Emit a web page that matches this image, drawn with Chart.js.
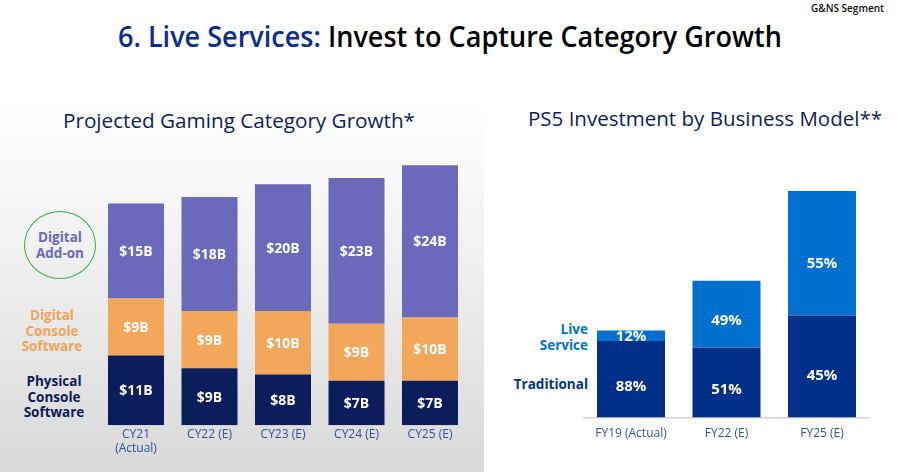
<!DOCTYPE html>
<html>
<head>
<meta charset="utf-8">
<script src="https://cdn.jsdelivr.net/npm/chart.js@4.4.1/dist/chart.umd.min.js"></script>
<style>
  html, body { margin: 0; padding: 0; }
  body { width: 900px; height: 472px; position: relative; overflow: hidden; background: #ffffff; font-family: "Open Sans", sans-serif; }
  #leftPanel { position: absolute; left: 0; top: 0; width: 484px; height: 472px;
    background: linear-gradient(to bottom, #ffffff 0px, #ffffff 100px, #f5f5f5 210px, #d9d9d9 472px); }
  .abs { position: absolute; white-space: nowrap; }
  #segTag { right: 16px; top: 1px; font-size: 10px; font-weight: 600; color: #111; }
  #mainTitle { left: 118px; top: 16px; font-size: 28px; font-weight: 600; color: #000; transform-origin: 0 50%; line-height: 40px; }
  #mainTitle .blue { color: #0B2D8C; }
  .sub { font-size: 20px; font-weight: 500; color: #111C5C; transform-origin: 0 50%; line-height: 28px; }
  #subL { left: 63px; top: 107px; }
  #subR { left: 528px; top: 105px; }
  .leg { font-size: 13.5px; font-weight: 700; text-align: center; line-height: 15.5px; }
  #legAddon { left: 20px; top: 230px; width: 80px; color: #6B69BC; }
  #legDigital { left: 10px; top: 308px; width: 84px; color: #F2A559; }
  #legPhysical { left: 10px; top: 374px; width: 88px; color: #0D1B5A; }
  #circle { position: absolute; left: 24px; top: 211px; width: 70px; height: 66px; border: 1.6px solid #2DB34A; border-radius: 50%; }
  .legR { font-size: 13.5px; font-weight: 700; text-align: right; line-height: 16px; }
  #legLive { right: 312px; top: 321px; color: #0070CF; }
  #legTrad { right: 312px; top: 376px; color: #00338D; }
  canvas { position: absolute; }
  #cLeft { left: 0; top: 130px; }
  #cRight { left: 484px; top: 130px; }
</style>
</head>
<body>
<div id="leftPanel"></div>
<div id="segTag" class="abs">G&amp;NS Segment</div>
<div id="mainTitle" class="abs"><span class="blue">6. Live Services:</span> Invest to Capture Category Growth</div>
<div id="subL" class="abs sub">Projected Gaming Category Growth*</div>
<div id="subR" class="abs sub">PS5 Investment by Business Model**</div>
<div id="circle"></div>
<div id="legAddon" class="abs leg">Digital<br>Add-on</div>
<div id="legDigital" class="abs leg">Digital<br>Console<br>Software</div>
<div id="legPhysical" class="abs leg">Physical<br>Console<br>Software</div>
<div id="legLive" class="abs legR">Live<br>Service</div>
<div id="legTrad" class="abs legR">Traditional</div>
<canvas id="cLeft" width="484" height="342"></canvas>
<canvas id="cRight" width="416" height="342"></canvas>
<script>
// ---- Left chart data (USD billions) ----
const cyLabels = [['CY21', '(Actual)'], 'CY22 (E)', 'CY23 (E)', 'CY24 (E)', 'CY25 (E)'];
const physicalConsole = [11, 9, 8, 7, 7];
const digitalConsole = [9, 9, 10, 9, 10];
const digitalAddon = [15, 18, 20, 23, 24];

// ---- Right chart data ----
const fyLabels = ['FY19 (Actual)', 'FY22 (E)', 'FY25 (E)'];
const investmentIndex = [100, 157, 260];   // relative total investment (FY19 = 100)
const traditionalPct = [88, 51, 45];
const liveServicePct = [12, 49, 55];

const traditionalVals = investmentIndex.map((t, i) => t * traditionalPct[i] / 100);
const liveVals = investmentIndex.map((t, i) => t * liveServicePct[i] / 100);

const segLabels = {
  id: 'segLabels',
  afterDatasetsDraw(chart, args, opts) {
    const ctx = chart.ctx;
    const frac = opts.frac ?? 0.5;
    ctx.save();
    ctx.fillStyle = '#ffffff';
    ctx.textAlign = 'center';
    ctx.textBaseline = 'middle';
    chart.data.datasets.forEach((ds, i) => {
      const meta = chart.getDatasetMeta(i);
      ctx.font = ds.labelFont;
      meta.data.forEach((el, j) => {
        const h = el.base - el.y;
        const f = h < 20 ? 0.5 : frac;
        ctx.fillText(ds.labelText[j], el.x, el.y + h * f + 1);
      });
    });
    ctx.restore();
  }
};

const tickFont = { family: 'Open Sans', size: 12, weight: '400' };
const tickColor = '#3350A4';

new Chart(document.getElementById('cLeft'), {
  type: 'bar',
  data: {
    labels: cyLabels,
    datasets: [
      { label: 'Physical Console Software', data: physicalConsole, backgroundColor: '#0C1D5C',
        labelText: physicalConsole.map(v => '$' + v + 'B'), labelFont: '700 14px "Open Sans"' },
      { label: 'Digital Console Software', data: digitalConsole, backgroundColor: '#F2A75B',
        labelText: digitalConsole.map(v => '$' + v + 'B'), labelFont: '700 14px "Open Sans"' },
      { label: 'Digital Add-on', data: digitalAddon, backgroundColor: '#6B69BC',
        labelText: digitalAddon.map(v => '$' + v + 'B'), labelFont: '700 14px "Open Sans"' }
    ]
  },
  options: {
    responsive: false, animation: false, devicePixelRatio: 1,
    layout: { padding: { left: 99.25, right: 17.25, top: 10, bottom: 14 } },
    datasets: { bar: { barPercentage: 0.762, categoryPercentage: 1.0 } },
    plugins: { legend: { display: false }, tooltip: { enabled: false }, segLabels: { frac: 0.5 } },
    scales: {
      x: { stacked: true, grid: { display: false, drawTicks: false }, border: { display: false },
           ticks: { color: tickColor, font: tickFont, padding: 2, maxRotation: 0 } },
      y: { stacked: true, display: false, min: 0, max: 45 }
    }
  },
  plugins: [segLabels]
});

new Chart(document.getElementById('cRight'), {
  type: 'bar',
  data: {
    labels: fyLabels,
    datasets: [
      { label: 'Traditional', data: traditionalVals, backgroundColor: '#003087',
        labelText: traditionalPct.map(v => v + '%'), labelFont: '700 15px "Open Sans"' },
      { label: 'Live Service', data: liveVals, backgroundColor: '#0070CF',
        labelText: liveServicePct.map(v => v + '%'), labelFont: '700 15px "Open Sans"' }
    ]
  },
  options: {
    responsive: false, animation: false, devicePixelRatio: 1,
    layout: { padding: { left: 99.25, right: 30.25, top: 10, bottom: 22 } },
    datasets: { bar: { barPercentage: 0.712, categoryPercentage: 1.0 } },
    plugins: { legend: { display: false }, tooltip: { enabled: false }, segLabels: { frac: 0.58 } },
    scales: {
      x: { stacked: true, grid: { display: false, drawTicks: false }, border: { display: true, color: '#d4d4d4', width: 1.5 },
           ticks: { color: tickColor, font: tickFont, padding: 9, maxRotation: 0 } },
      y: { stacked: true, display: false, min: 0, max: 318.4 }
    }
  },
  plugins: [segLabels]
});

// fit text widths to reference
function fitWidth(id, target) {
  const el = document.getElementById(id);
  const w = el.getBoundingClientRect().width;
  el.style.transform = 'scaleX(' + (target / w) + ')';
}
fitWidth('mainTitle', 664);
fitWidth('subL', 352);
fitWidth('subR', 354);
</script>
</body>
</html>
